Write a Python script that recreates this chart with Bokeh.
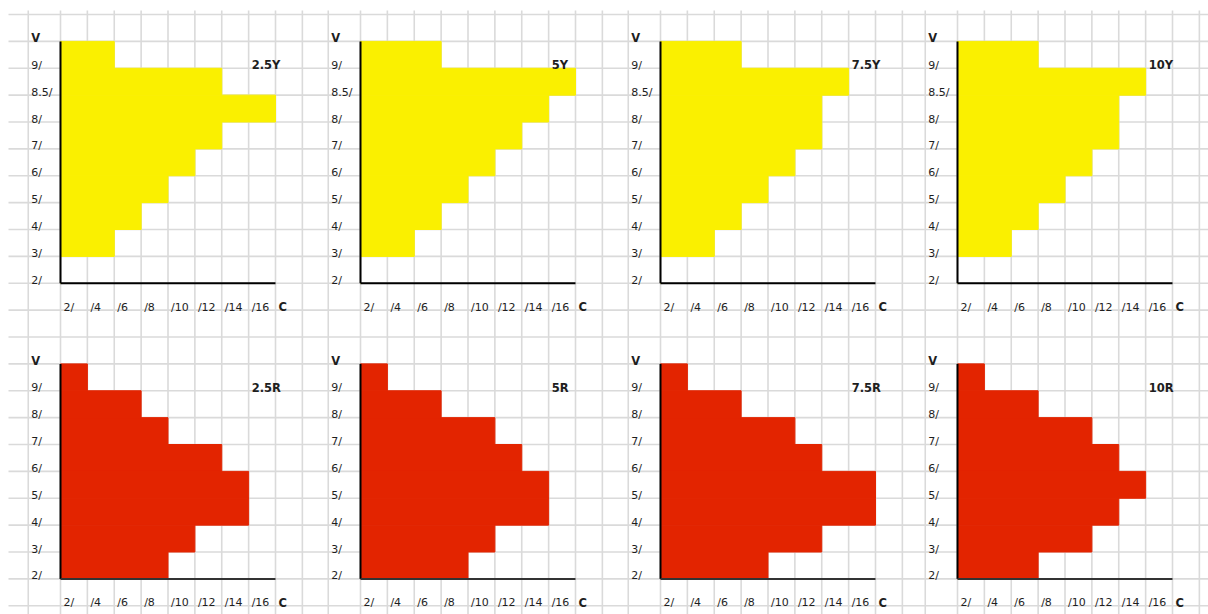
from bokeh.plotting import figure
from bokeh.models import Range1d
from bokeh.core.properties import value
from bokeh.embed import file_html
from bokeh.resources import INLINE

# ---------------- data ----------------
CHROMA_LABELS = ["2/", "/4", "/6", "/8", "/10", "/12", "/14", "/16"]
CHROMA = [2, 4, 6, 8, 10, 12, 14, 16]

Y_HUES = ["2.5Y", "5Y", "7.5Y", "10Y"]
Y_VALUE_LABELS = ["9/", "8.5/", "8/", "7/", "6/", "5/", "4/", "3/", "2/"]
Y_2_5Y = [4, 12, 16, 12, 10, 8, 6, 4, 0]
Y_5Y = [6, 16, 14, 12, 10, 8, 6, 4, 0]
Y_7_5Y = [6, 14, 12, 12, 10, 8, 6, 4, 0]
Y_10Y = [6, 14, 12, 12, 10, 8, 6, 4, 0]

R_HUES = ["2.5R", "5R", "7.5R", "10R"]
R_VALUE_LABELS = ["9/", "8/", "7/", "6/", "5/", "4/", "3/", "2/"]
R_2_5R = [2, 6, 8, 12, 14, 14, 10, 8]
R_5R = [2, 6, 10, 12, 14, 14, 10, 8]
R_7_5R = [2, 6, 10, 12, 16, 16, 12, 8]
R_10R = [2, 6, 10, 12, 14, 12, 10, 6]

# ---------------- layout / style ----------------
W, H = 1208, 614
CELL = 215 / 8.0           # px per spreadsheet cell
SX = CELL / 2.0            # px per chroma unit
GRID_TOP = 14.0            # first horizontal grid line (px from top)
GRID_LEFT = 8.0
PANEL_LEFT = [60, 360, 660, 957]                        # px where chroma 0 sits
AXIS_Y = [GRID_TOP + 10 * CELL, GRID_TOP + 21 * CELL]   # px from top of value axis
LABEL_COL = -2.4           # left edge of label column (chroma units)
YELLOW = "#FAF000"
RED = "#E32400"
GRID = "#dadada"
TXT = "#1e1e1e"
FONT = value("DejaVu Sans")

p = figure(width=W, height=H, output_backend="svg", toolbar_location=None,
           x_axis_type=None, y_axis_type=None,
           x_range=Range1d(0, W), y_range=Range1d(H, 0),
           min_border=0, min_border_left=0, min_border_right=0,
           min_border_top=0, min_border_bottom=0)
p.outline_line_color = None
p.background_fill_color = "white"
p.border_fill_color = "white"

for k, left in enumerate(PANEL_LEFT):
    p.extra_x_ranges["c%d" % k] = Range1d(-left / SX, (W - left) / SX)
for k, ay in enumerate(AXIS_Y):
    p.extra_y_ranges["r%d" % k] = Range1d(-(H - ay) / CELL, ay / CELL)

# horizontal spreadsheet grid lines (pixel space)
hy = [GRID_TOP + i * CELL for i in range(23)]
p.segment(x0=[GRID_LEFT] * len(hy), x1=[W] * len(hy), y0=hy, y1=hy,
          line_color=GRID, line_width=1.6)

# vertical grid lines per panel column (chroma space)
vx = [LABEL_COL, 0] + CHROMA + [CHROMA[-1] + 2]
for k in range(4):
    p.segment(x0=vx, x1=vx, y0=[10] * len(vx), y1=[H] * len(vx),
              line_color=GRID, line_width=1.6, x_range_name="c%d" % k)

rows = [
    (Y_HUES, Y_VALUE_LABELS, [Y_2_5Y, Y_5Y, Y_7_5Y, Y_10Y], YELLOW, "#000000"),
    (R_HUES, R_VALUE_LABELS, [R_2_5R, R_5R, R_7_5R, R_10R], RED, "#333333"),
]

for r, (hues, vlabels, series, color, hcolor) in enumerate(rows):
    n = len(vlabels)
    ypos = [n - 1 - j + 0.5 for j in range(n)]
    for k in range(4):
        xr, yr = "c%d" % k, "r%d" % r
        p.hbar(y=ypos, left=0, right=series[k], height=1,
               fill_color=color, line_color=color, line_width=1,
               x_range_name=xr, y_range_name=yr)
        # axis lines
        p.segment(x0=[0], x1=[0], y0=[0], y1=[n], line_color="black",
                  line_width=2, x_range_name=xr, y_range_name=yr)
        p.segment(x0=[0], x1=[CHROMA[-1]], y0=[0], y1=[0], line_color=hcolor,
                  line_width=2, x_range_name=xr, y_range_name=yr)
        # value labels
        p.text(x=[LABEL_COL] * n, y=[n - 1 - j for j in range(n)], text=vlabels,
               text_font=FONT, text_font_size=value("11px"), text_color=TXT,
               text_align="left", text_baseline="alphabetic",
               x_offset=3, y_offset=-3, x_range_name=xr, y_range_name=yr)
        # chroma labels
        p.text(x=[c - 2 for c in CHROMA], y=[-1] * len(CHROMA), text=CHROMA_LABELS,
               text_font=FONT, text_font_size=value("11px"), text_color=TXT,
               text_align="left", text_baseline="alphabetic",
               x_offset=3, y_offset=-3, x_range_name=xr, y_range_name=yr)
        # bold labels: V, C, hue
        p.text(x=[LABEL_COL, CHROMA[-1], CHROMA[-2]], y=[n, -1, n - 1],
               text=["V", "C", hues[k]],
               text_font=FONT, text_font_size=value("11.5px"), text_font_style="bold",
               text_color=TXT, text_align="left", text_baseline="alphabetic",
               x_offset=3, y_offset=-3, x_range_name=xr, y_range_name=yr)

open("out.html", "w").write(file_html(p, INLINE))
